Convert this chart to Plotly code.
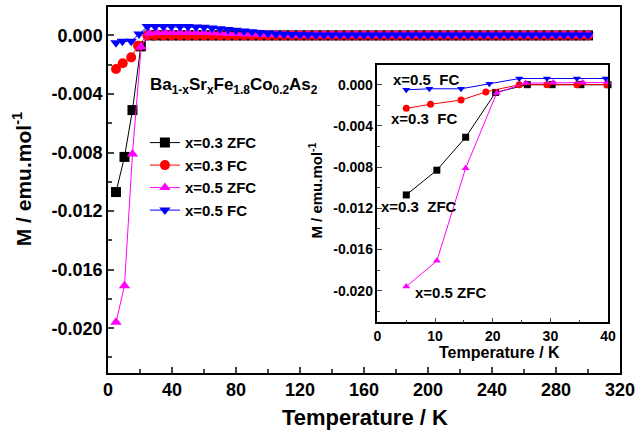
import plotly.graph_objects as go

# ---------------- data ----------------
# low-temperature part (also shown in the inset)
T_zfc03 = [5, 10.3, 15.3, 20.5, 26, 30.3, 35.3, 40]
M_zfc03 = [-0.0107, -0.0083, -0.0051, -0.00075, 0.0, 0.0, 0.0, 0.0]
T_fc03 = [5, 9.2, 14.5, 18.8, 24.6, 29.4, 34.6, 39.8]
M_fc03 = [-0.0023, -0.0019, -0.0015, -0.0007, 0.0, 0.0, 0.0, 0.0]
T_zfc05 = [5, 10.3, 15.3, 20.7, 25.7, 30.5, 35.6, 40]
M_zfc05 = [-0.0196, -0.0171, -0.0081, -0.0008, 0.00015, 0.0002, 0.0002, 0.0002]
T_fc05 = [5, 9, 14.5, 19.4, 24.6, 29.4, 34.6, 39.6]
M_fc05 = [-0.0005, -0.0004, -0.0004, 0.0001, 0.0006, 0.0006, 0.0006, 0.0006]

# high-temperature part (main panel only)
T_hi = [45, 50, 55, 60, 65, 70, 75, 80, 85, 90, 95, 100, 105, 110, 115, 120,
        125, 130, 135, 140, 145, 150, 155, 160, 165, 170, 175, 180, 185, 190,
        195, 200, 205, 210, 215, 220, 225, 230, 235, 240, 245, 250, 255, 260,
        265, 270, 275, 280, 285, 290, 295, 300]
M_hi_zfc03 = [0.0, 0.0, 0.0, 0.0, 0.0, 0.0, 0.0, 0.0, 0.0, 0.0, 0.0, 0.0, 0.0,
              0.0, 0.0, 0.0, 0.0, 0.0, 0.0, 0.0, 0.0, 0.0, 0.0, 0.0, 0.0, 0.0,
              0.0, 0.0, 0.0, 0.0, 0.0, 0.0, 0.0, 0.0, 0.0, 0.0, 0.0, 0.0, 0.0,
              0.0, 0.0, 0.0, 0.0, 0.0, 0.0, 0.0, 0.0, 0.0, 0.0, 0.0, 0.0, 0.0]
M_hi_fc03 = [0.0, 0.0, 0.0, 0.0, 0.0, 0.0, 0.0, 0.0, 0.0, 0.0, 0.0, 0.0, 0.0,
             0.0, 0.0, 0.0, 0.0, 0.0, 0.0, 0.0, 0.0, 0.0, 0.0, 0.0, 0.0, 0.0,
             0.0, 0.0, 0.0, 0.0, 0.0, 0.0, 0.0, 0.0, 0.0, 0.0, 0.0, 0.0, 0.0,
             0.0, 0.0, 0.0, 0.0, 0.0, 0.0, 0.0, 0.0, 0.0, 0.0, 0.0, 0.0, 0.0]
M_hi_zfc05 = [0.0002, 0.0002, 0.0002, 0.00019, 0.00018, 0.00017, 0.00015,
              0.00013, 0.00011, 0.0001, 0.00008, 0.00007, 0.00006, 0.00005,
              0.00005, 0.00005, 0.00005, 0.00005, 0.00005, 0.00005, 0.00005,
              0.00005, 0.00005, 0.00005, 0.00005, 0.00005, 0.00005, 0.00005,
              0.00005, 0.00005, 0.00005, 0.00005, 0.00005, 0.00005, 0.00005,
              0.00005, 0.00005, 0.00005, 0.00005, 0.00005, 0.00005, 0.00005,
              0.00005, 0.00005, 0.00005, 0.00005, 0.00005, 0.00005, 0.00005,
              0.00005, 0.00005, 0.00005]
M_hi_fc05 = [0.0006, 0.0006, 0.00058, 0.00055, 0.0005, 0.00045, 0.0004,
             0.00035, 0.0003, 0.00025, 0.0002, 0.00015, 0.0001, 0.00008,
             0.00006, 0.00005, 0.00004, 0.00003, 0.00003, 0.00003, 0.00003,
             0.00003, 0.00003, 0.00003, 0.00003, 0.00003, 0.00003, 0.00003,
             0.00003, 0.00003, 0.00003, 0.00003, 0.00003, 0.00003, 0.00003,
             0.00003, 0.00003, 0.00003, 0.00003, 0.00003, 0.00003, 0.00003,
             0.00003, 0.00003, 0.00003, 0.00003, 0.00003, 0.00003, 0.00003,
             0.00003, 0.00003, 0.00003]

series_names = ["x=0.3 ZFC", "x=0.3 FC", "x=0.5 ZFC", "x=0.5 FC"]

x_main_ticks = [0, 40, 80, 120, 160, 200, 240, 280, 320]
x_main_minor = [20, 60, 100, 140, 180, 220, 260, 300]
x_inset_ticks = [0, 10, 20, 30, 40]
x_inset_minor = [5, 15, 25, 35]
y_ticks = [0.0, -0.004, -0.008, -0.012, -0.016, -0.020]
y_tick_text = ["0.000", "-0.004", "-0.008", "-0.012", "-0.016", "-0.020"]
y_minor = [0.002, -0.002, -0.006, -0.010, -0.014, -0.018, -0.022]

# ---------------- styling ----------------
FONT = "Arial, 'Liberation Sans', Helvetica, sans-serif"
colors = ["black", "red", "#ff00ff", "blue"]
symbols = ["square", "circle", "triangle-up", "triangle-down"]

low = [(T_zfc03, M_zfc03), (T_fc03, M_fc03), (T_zfc05, M_zfc05), (T_fc05, M_fc05)]
high = [M_hi_zfc03, M_hi_fc03, M_hi_zfc05, M_hi_fc05]

fig = go.Figure()

for i in range(4):
    T_lo, M_lo = low[i]
    fig.add_trace(go.Scatter(
        x=T_lo + T_hi, y=M_lo + high[i], name=series_names[i],
        mode="lines+markers",
        line=dict(color=colors[i], width=1),
        marker=dict(symbol=symbols[i], size=10, color=colors[i]),
        xaxis="x", yaxis="y", cliponaxis=False,
    ))

for i in range(4):
    T_lo, M_lo = low[i]
    fig.add_trace(go.Scatter(
        x=T_lo, y=M_lo, showlegend=False,
        mode="lines+markers",
        line=dict(color=colors[i], width=1),
        marker=dict(symbol=symbols[i], size=7, color=colors[i]),
        xaxis="x2", yaxis="y2", cliponaxis=False,
    ))

# plot-area pixel geometry (for placing texts)
L, R, T, B = 108, 621, 5, 373


def px2paper(px, py):
    return (px - L) / (R - L), (B - py) / (B - T)


YR = [-0.02306, 0.00194]

axis_common = dict(showline=True, linecolor="black", linewidth=1.5, mirror=True,
                   ticks="inside", showgrid=False, zeroline=False)

fig.update_layout(
    width=640, height=435,
    margin=dict(l=L, r=640 - R, t=T, b=435 - B),
    paper_bgcolor="white", plot_bgcolor="white",
    font=dict(family=FONT, color="black"),
    xaxis=dict(range=[0, 320], tickmode="array", tickvals=x_main_ticks,
               ticklen=6, tickwidth=1.5,
               minor=dict(tickmode="array", tickvals=x_main_minor, ticks="inside",
                          ticklen=4, tickwidth=1.5),
               tickfont=dict(size=18, weight="bold"), domain=[0, 1],
               **axis_common),
    yaxis=dict(range=YR, tickmode="array", tickvals=y_ticks, ticktext=y_tick_text,
               ticklen=6, tickwidth=1.5,
               minor=dict(tickmode="array", tickvals=y_minor, ticks="inside",
                          ticklen=4, tickwidth=1.5),
               tickfont=dict(size=18, weight="bold"), domain=[0, 1],
               **axis_common),
    xaxis2=dict(range=[0, 40], tickmode="array", tickvals=x_inset_ticks,
                ticklen=5, tickwidth=1,
                minor=dict(tickmode="array", tickvals=x_inset_minor, ticks="inside",
                           ticklen=3, tickwidth=1),
                tickfont=dict(size=14, weight="bold"),
                domain=[px2paper(378, 0)[0], px2paper(609, 0)[0]],
                anchor="y2", **axis_common),
    yaxis2=dict(range=YR, tickmode="array", tickvals=y_ticks, ticktext=y_tick_text,
                ticklen=5, tickwidth=1,
                minor=dict(tickmode="array", tickvals=y_minor, ticks="inside",
                           ticklen=3, tickwidth=1),
                tickfont=dict(size=14, weight="bold"),
                domain=[px2paper(0, 322)[1], px2paper(0, 63)[1]],
                anchor="x2", **axis_common),
    showlegend=True,
    legend=dict(x=px2paper(145, 0)[0], y=px2paper(0, 125)[1],
                xanchor="left", yanchor="top", bgcolor="rgba(0,0,0,0)",
                font=dict(size=15, weight="bold"), tracegroupgap=0,
                itemwidth=30),
)


def add_text(text, px, py, size, angle=0, xanchor="center"):
    x, y = px2paper(px, py)
    fig.add_annotation(text=text, x=x, y=y, xref="paper", yref="paper",
                       showarrow=False, textangle=angle, xanchor=xanchor,
                       yanchor="middle",
                       font=dict(size=size, family=FONT, color="black", weight="bold"))


# axis titles
add_text("Temperature / K", 366, 418, 22)
add_text("M / emu.mol<sup>-1</sup>", 22, 178, 21, angle=-90)
add_text("Temperature / K", 500, 352, 16)
add_text("M / emu.mol<sup>-1</sup>", 316, 190, 15, angle=-90)

# formula label
add_text("Ba<sub>1-x</sub>Sr<sub>x</sub>Fe<sub>1.8</sub>Co<sub>0.2</sub>As<sub>2</sub>",
         148, 84, 17, xanchor="left")

# inset labels
add_text("x=0.5\u00a0\u00a0FC", 427, 78, 15)
add_text("x=0.3\u00a0\u00a0FC", 425, 117, 15)
add_text("x=0.3\u00a0\u00a0ZFC", 420, 206, 15)
add_text("x=0.5 ZFC", 451, 292, 15)

fig.write_html("out.html",
               config={"displayModeBar": False},
               post_script="document.body.style.margin='0px';"
                           "document.body.style.padding='0px';")
